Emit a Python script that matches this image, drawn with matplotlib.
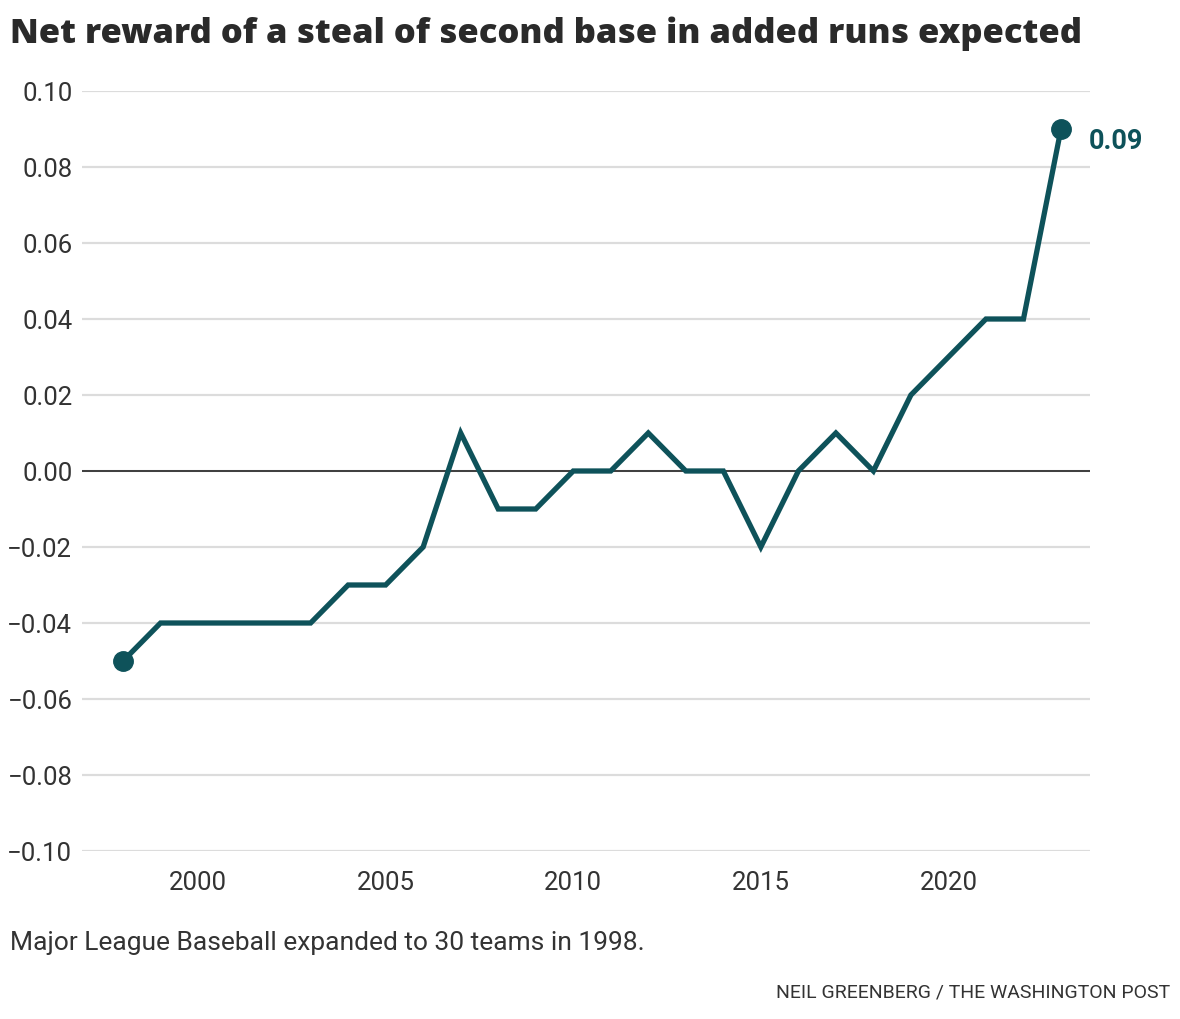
import matplotlib
matplotlib.use("Agg")
import matplotlib.pyplot as plt
from matplotlib.ticker import FuncFormatter

years = list(range(1998, 2024))
net_reward = [-0.05, -0.04, -0.04, -0.04, -0.04, -0.04, -0.03, -0.03, -0.02, 0.01,
              -0.01, -0.01, 0.00, 0.00, 0.01, 0.00, 0.00, -0.02, 0.00, 0.01,
              0.00, 0.02, 0.03, 0.04, 0.04, 0.09]
y_ticks = [-0.10, -0.08, -0.06, -0.04, -0.02, 0.00, 0.02, 0.04, 0.06, 0.08, 0.10]
x_ticks = [2000, 2005, 2010, 2015, 2020]

color = "#0e525a"
plt.rcParams['font.family'] = ['Roboto', 'DejaVu Sans']

fig = plt.figure(figsize=(11.8, 10.2), dpi=100)
ax = fig.add_axes([82/1180, 1-852/1020, (1090-82)/1180, (852-92)/1020])

ax.set_ylim(-0.10, 0.10)
ax.set_xlim(1998 - 41/37.5, 2023 + 29/37.5)
ax.set_yticks(y_ticks)
ax.set_xticks(x_ticks)
ax.yaxis.set_major_formatter(FuncFormatter(lambda v, p: f"{v:.2f}".replace("-", "\u2212") if abs(v) > 1e-9 else "0.00"))
ax.grid(axis='y', color='#dcdcdc', linewidth=1.6)
ax.grid(axis='x', visible=False)
ax.axhline(0, color='#222222', linewidth=1.2, zorder=2)
for s in ax.spines.values():
    s.set_visible(False)
ax.tick_params(axis='both', length=0, labelsize=18.5, colors='#333333')
ax.tick_params(axis='y', pad=7)
ax.tick_params(axis='x', pad=14)
ax.set_axisbelow(True)

ax.plot(years, net_reward, color=color, linewidth=3.8, solid_joinstyle='miter', zorder=3)
ax.plot([years[0], years[-1]], [net_reward[0], net_reward[-1]], 'o', color=color,
        markersize=14, zorder=4, clip_on=False)
ax.annotate(f"{net_reward[-1]:.2f}", (years[-1], net_reward[-1]), xytext=(20, -8),
            textcoords='offset points', color=color, fontsize=19.5, fontweight='bold',
            va='center', ha='left', annotation_clip=False)

fig.text(10/1180, 1-34/1020, "Net reward of a steal of second base in added runs expected",
         fontsize=24.8, fontweight='heavy', color='#2a2a2a', va='center', ha='left',
         family=['Open Sans', 'DejaVu Sans'])
fig.text(10/1180, 1-943/1020, "Major League Baseball expanded to 30 teams in 1998.",
         fontsize=19, color='#333333', va='center', ha='left')
fig.text(1170/1180, 1-993/1020, "NEIL GREENBERG / THE WASHINGTON POST",
         fontsize=14, color='#333333', va='center', ha='right')

fig.savefig("out.png", dpi=100, facecolor='white')
